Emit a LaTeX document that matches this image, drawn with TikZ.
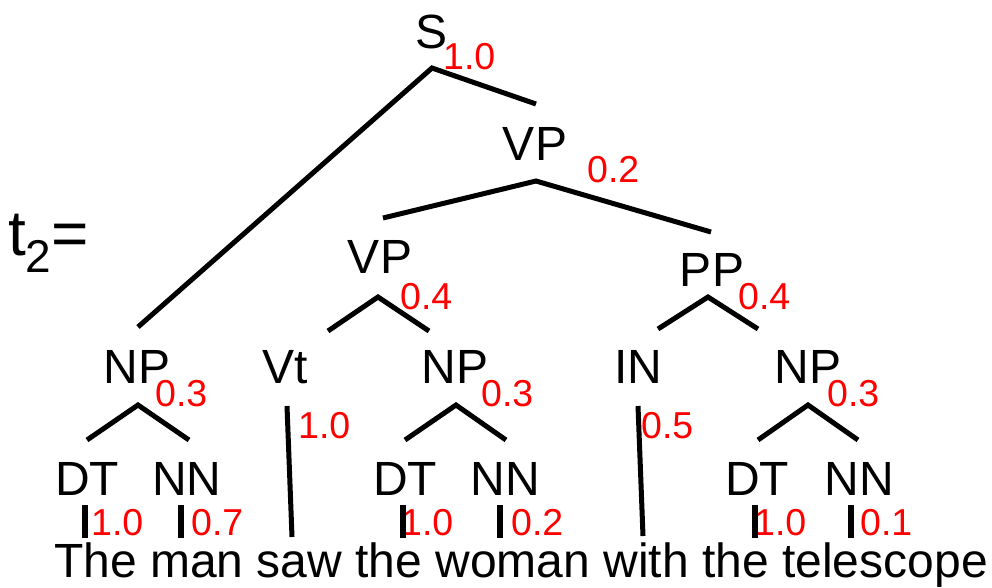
\documentclass[tikz,border=0pt]{standalone}
\usepackage{fontspec}
\setmainfont{Liberation Sans}
\begin{document}
\begin{tikzpicture}[x=1pt,y=-1pt,
  lab/.style={inner sep=0pt,anchor=base,font=\fontsize{48}{56}\selectfont},
  prob/.style={inner sep=0pt,anchor=base west,text=red,font=\fontsize{37.5}{44}\selectfont},
  edge/.style={line width=5pt},
  bar/.style={line width=5.5pt}]
\useasboundingbox (0,0) rectangle (992,587);
% title
\node[inner sep=0pt,anchor=base west,font=\fontsize{64}{72}\selectfont] (title) at (8,255) {t\raisebox{-17pt}{\fontsize{46}{50}\selectfont 2}=};
% labels
\node[lab] (S) at (432,48) {S};
\node[prob] (pS) at (443,69) {1.0};
\node[lab] (VP1) at (535,160) {VP};
\node[prob] (pVP1) at (587,182) {0.2};
\node[lab] (VP2) at (380,273) {VP};
\node[prob] (pVP2) at (400,309) {0.4};
\node[lab] (PP) at (712,286) {PP};
\node[prob] (pPP) at (738,309) {0.4};
\node[lab] (NP1) at (137,383) {NP};
\node[prob] (pNP1) at (155,406) {0.3};
\node[lab] (Vt) at (285,383) {Vt};
\node[prob] (pVt) at (298,438) {1.0};
\node[lab] (NP2) at (455,383) {NP};
\node[prob] (pNP2) at (481,406) {0.3};
\node[lab] (IN) at (638,383) {IN};
\node[prob] (pIN) at (641,438) {0.5};
\node[lab] (NP3) at (808,383) {NP};
\node[prob] (pNP3) at (827,406) {0.3};
\node[lab] (DT1) at (87,495) {DT};
\node[lab] (NN1) at (187,495) {NN};
\node[lab] (DT2) at (405,495) {DT};
\node[lab] (NN2) at (505,495) {NN};
\node[lab] (DT3) at (757,495) {DT};
\node[lab] (NN3) at (859,495) {NN};
\node[prob] (pDT1) at (91,535) {1.0};
\node[prob] (pNN1) at (191,535) {0.7};
\node[prob] (pDT2) at (401,535) {1.0};
\node[prob] (pNN2) at (511,535) {0.2};
\node[prob] (pDT3) at (754,535) {1.0};
\node[prob] (pNN3) at (860,535) {0.1};
\node[lab] (sent) at (521,577) {The man saw the woman with the telescope};
% junction coordinates
\coordinate (aS) at (432,68);
\coordinate (eS1) at (138,327);
\coordinate (eS2) at (536,104);
\coordinate (aVP1) at (536,181);
\coordinate (eVP1a) at (383,218);
\coordinate (eVP1b) at (711,232);
\coordinate (aVP2) at (378,297);
\coordinate (eVP2a) at (328,331);
\coordinate (eVP2b) at (429,331);
\coordinate (aPP) at (708,297);
\coordinate (ePPa) at (658,329);
\coordinate (ePPb) at (758,329);
\coordinate (aNP1) at (138,405);
\coordinate (eNP1a) at (87,440);
\coordinate (eNP1b) at (189,440);
\coordinate (aNP2) at (456,405);
\coordinate (eNP2a) at (405,440);
\coordinate (eNP2b) at (506,440);
\coordinate (aNP3) at (808,405);
\coordinate (eNP3a) at (758,440);
\coordinate (eNP3b) at (858,440);
\coordinate (tVt) at (287,406);
\coordinate (bVt) at (292,537);
\coordinate (tIN) at (638,406);
\coordinate (bIN) at (643,536);
\foreach \x/\n in {85/1,181/2,403/3,500/4,755/5,851/6}{
  \coordinate (bt\n) at (\x,505);
  \coordinate (bb\n) at (\x,538);
}
% edges
\draw[edge] (eS1) -- (aS) -- (eS2);
\draw[edge] (eVP1a) -- (aVP1) -- (eVP1b);
\draw[edge] (eVP2a) -- (aVP2) -- (eVP2b);
\draw[edge] (ePPa) -- (aPP) -- (ePPb);
\draw[edge] (eNP1a) -- (aNP1) -- (eNP1b);
\draw[edge] (eNP2a) -- (aNP2) -- (eNP2b);
\draw[edge] (eNP3a) -- (aNP3) -- (eNP3b);
\draw[edge] (tVt) -- (bVt);
\draw[edge] (tIN) -- (bIN);
\foreach \n in {1,...,6}{\draw[bar] (bt\n) -- (bb\n);}
\end{tikzpicture}
\end{document}
